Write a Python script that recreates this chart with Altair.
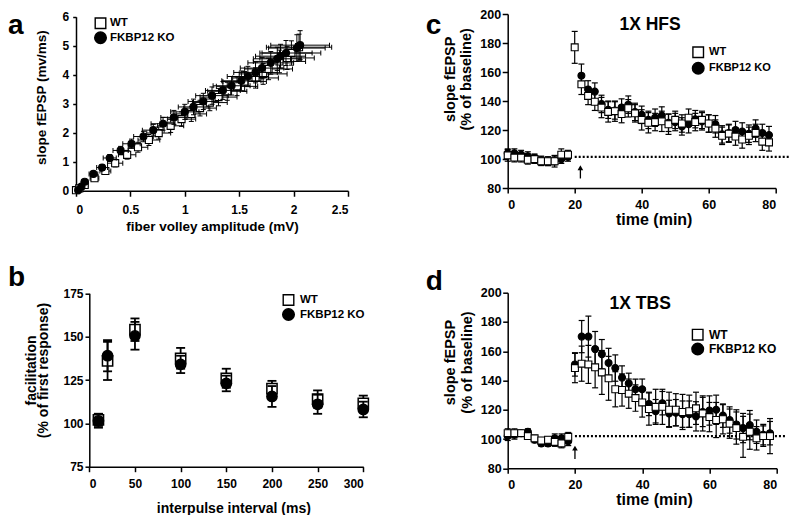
import altair as alt
import pandas as pd

FONT = "Liberation Sans"
GROUPS = ["WT", "FKBP12 KO"]

# ---------------- panel a : input/output ----------------
a_wt_x = [0.00, 0.03, 0.08, 0.17, 0.27, 0.36, 0.47, 0.57, 0.67, 0.76, 0.87, 0.97, 1.06,
          1.14, 1.23, 1.31, 1.39, 1.48, 1.55, 1.65, 1.72, 1.77, 1.87, 1.94, 1.98, 2.05]
a_wt_y = [0.02, 0.08, 0.20, 0.43, 0.68, 0.95, 1.24, 1.50, 1.75, 1.99, 2.24, 2.47, 2.65,
          2.85, 3.04, 3.23, 3.43, 3.60, 3.77, 3.89, 4.03, 4.20, 4.46, 4.58, 4.75, 4.95]
a_wt_xerr = [0.01, 0.02, 0.03, 0.04, 0.05, 0.07, 0.08, 0.09, 0.10, 0.11, 0.12, 0.13, 0.14,
             0.15, 0.16, 0.17, 0.18, 0.19, 0.20, 0.21, 0.22, 0.22, 0.24, 0.25, 0.27, 0.30]
a_wt_yerr = [0.02, 0.04, 0.06, 0.09, 0.11, 0.13, 0.15, 0.17, 0.19, 0.21, 0.23, 0.25, 0.26,
             0.27, 0.28, 0.30, 0.31, 0.32, 0.34, 0.35, 0.36, 0.37, 0.39, 0.40, 0.42, 0.45]
a_ko_x = [0.02, 0.05, 0.08, 0.16, 0.24, 0.31, 0.41, 0.51, 0.62, 0.71, 0.80, 0.90, 1.00, 1.08,
          1.17, 1.25, 1.35, 1.43, 1.52, 1.58, 1.65, 1.71, 1.79, 1.85, 1.88, 1.93, 2.03, 2.06]
a_ko_y = [0.02, 0.14, 0.31, 0.58, 0.80, 1.13, 1.39, 1.62, 1.87, 2.09, 2.31, 2.53, 2.72, 2.89,
          3.08, 3.28, 3.46, 3.62, 3.79, 3.94, 4.08, 4.23, 4.41, 4.55, 4.64, 4.75, 4.92, 5.02]
a_ko_xerr = [0.01, 0.02, 0.03, 0.04, 0.05, 0.06, 0.07, 0.08, 0.09, 0.10, 0.11, 0.12, 0.13, 0.14,
             0.14, 0.15, 0.16, 0.17, 0.18, 0.19, 0.20, 0.20, 0.21, 0.22, 0.23, 0.24, 0.26, 0.27]
a_ko_yerr = [0.02, 0.04, 0.06, 0.08, 0.10, 0.12, 0.14, 0.16, 0.18, 0.20, 0.22, 0.24, 0.26, 0.27,
             0.28, 0.30, 0.31, 0.32, 0.34, 0.35, 0.36, 0.37, 0.39, 0.40, 0.41, 0.43, 0.46, 0.50]

# ---------------- panel b : paired-pulse facilitation ----------------
b_x = [10, 20, 50, 100, 150, 200, 250, 300]
b_wt = [102, 136, 154, 137.5, 126, 120, 114, 111.5]
b_wt_err = [3.5, 11, 6.5, 6, 5.5, 4.5, 5, 4.5]
b_ko = [101.5, 139, 150.5, 134, 123, 115.5, 111, 108]
b_ko_err = [4, 9, 8, 5, 4.5, 6, 5.5, 4.5]

# ---------------- panel c : 1X HFS ----------------
c_wt_t = [0, 2, 4, 6, 8, 10, 12, 14, 16, 18, 20, 22, 24, 26, 28, 30, 32, 34, 36, 38,
          40, 42, 44, 46, 48, 50, 52, 54, 56, 58, 60, 62, 64, 66, 68, 70, 72, 74, 76, 78]
c_wt = [102.5, 101, 101, 99.5, 100, 98.5, 98.5, 98.5, 103, 103,
        177, 151.5, 143.5, 139.5, 135.5, 132.5, 133, 131, 135, 131.5,
        127, 125, 125.5, 126, 124, 127, 124.5, 128.5, 125.5, 127,
        124.5, 121, 116, 117.5, 115.5, 113.5, 116, 118, 112, 111.5]
c_wt_err = [4, 3, 3, 3, 3, 3, 3, 4, 4, 3,
            11, 7, 6, 6, 7, 7, 7, 6, 6, 6,
            7, 7, 6, 7, 7, 6, 6, 6, 6, 6,
            6, 6, 6, 6, 6, 6, 6, 6, 6, 6]
c_ko_t = [0, 2, 4, 6, 8, 10, 12, 14, 16, 18, 22, 24, 26, 28, 30, 32, 34, 36, 38,
          40, 42, 44, 46, 48, 50, 52, 54, 56, 58, 60, 62, 64, 66, 68, 70, 72, 74, 76, 78]
c_ko = [104, 104, 103, 102, 100.5, 99, 98.5, 99, 100, 101.5,
        157.5, 148, 146.5, 138, 134, 133.5, 135.5, 137.5, 132.5,
        130.5, 127, 128.5, 130, 125, 125.5, 122.5, 124, 127.5, 126,
        124.5, 124, 117, 118, 120, 119, 117.5, 121, 118, 116.5]
c_ko_err = [3, 3, 3, 3, 3, 3, 3, 3, 3, 3,
            8, 6, 6, 6, 6, 6, 6, 6, 6,
            6, 6, 6, 6, 6, 6, 6, 6, 6, 6,
            6, 6, 6, 6, 6, 6, 6, 6, 6, 6]
c_dotted = [20, 84, 101.5]          # from t, to t, level
c_arrow = [21.7, 86.6, 94]          # t, tail, head
c_label = [42.5, 192.4, "1X HFS"]

# ---------------- panel d : 1X TBS ----------------
d_t = [0, 2, 4, 6, 8, 10, 12, 14, 16, 18, 20, 22, 24, 26, 28, 30, 32, 34, 36, 38,
       40, 42, 44, 46, 48, 50, 52, 54, 56, 58, 60, 62, 64, 66, 68, 70, 72, 74, 76, 78]
d_wt = [104, 104, 104, 102, 100.5, 99, 99.5, 98, 97, 101.5,
        148.5, 151.5, 151, 149, 145.5, 141.5, 134, 133.5, 131, 128,
        125, 120.5, 122, 122, 120, 120, 118.5, 119, 121, 117.5,
        115, 113, 113.5, 110.5, 107.5, 101.5, 105, 100.5, 102, 102]
d_wt_err = [3, 3, 2, 2, 2, 2, 2, 3, 3, 3,
            10, 12, 13, 14, 15, 15, 12, 11, 10, 9,
            10, 11, 12, 12, 12, 11, 12, 11, 11, 12,
            10, 12, 10, 10, 11, 14, 12, 8, 7, 12]
d_ko = [102, 103, 104, 105, 99.5, 97, 97, 100.5, 100.5, 98.5,
        151, 170, 170, 161.5, 158, 152, 148.5, 142, 138, 134,
        134, 124, 119, 124.5, 117.5, 118, 117, 117, 115.5, 118.5,
        119.5, 120, 116, 113, 110, 107.5, 109.5, 105, 103, 104]
d_ko_err = [3, 3, 2, 2, 2, 2, 2, 3, 3, 3,
            8, 11, 14, 12, 10, 10, 9, 8, 7, 7,
            7, 8, 8, 8, 9, 9, 9, 9, 10, 10,
            10, 10, 8, 9, 10, 10, 10, 8, 7, 8]
d_dotted = [20, 83, 102]
d_arrow = [20.0, 86.3, 93.8]
d_label = [39.4, 192.1, "1X TBS"]

STYLE = {"WT": {"shape": "square", "fill": "white", "lsize": 112},
         "FKBP12 KO": {"shape": "circle", "fill": "black", "lsize": 135}}


def frame(xs, ys, errs, xerrs=None):
    d = pd.DataFrame({"x": xs, "y": ys, "e": errs})
    d["lo"] = d["y"] - d["e"]
    d["hi"] = d["y"] + d["e"]
    if xerrs is not None:
        d["ex"] = xerrs
        d["xlo"] = d["x"] - d["ex"]
        d["xhi"] = d["x"] + d["ex"]
    return d


def panel(series, order, w, h, xsc, ysc, xaxis, yaxis, size, sw, barw, cap,
          leg, letter, lxy, xerr=False, dotted=None, arrow=None, label=None):
    xs = alt.Scale(nice=False, zero=False, **xsc)
    ys = alt.Scale(nice=False, zero=False, **ysc)

    def X(f):
        return alt.X(f"{f}:Q", scale=xs, axis=xaxis)

    def Y(f):
        return alt.Y(f"{f}:Q", scale=ys, axis=yaxis)

    layers = []
    if dotted is not None:
        dd = pd.DataFrame({"x0": [dotted[0]], "x1": [dotted[1]], "yy": [dotted[2]]})
        layers.append(alt.Chart(dd).mark_rule(color="black", strokeWidth=2.2, strokeDash=[2, 2])
                      .encode(x=X("x0"), x2="x1", y=Y("yy")))
    if arrow is not None:
        ad = pd.DataFrame({"ax": [arrow[0]], "a0": [arrow[1]], "a1": [arrow[2]]})
        layers.append(alt.Chart(ad).mark_rule(color="black", strokeWidth=1.3)
                      .encode(x=X("ax"), y=Y("a0"), y2="a1"))
        layers.append(alt.Chart(ad).mark_point(shape="triangle-up", filled=True, color="black",
                                               opacity=1, size=32)
                      .encode(x=X("ax"), y=Y("a1")))
    for g in order:
        df = series[g]
        st = STYLE[g]
        base = alt.Chart(df)
        layers.append(base.mark_rule(color="black", strokeWidth=barw)
                      .encode(x=X("x"), y=Y("lo"), y2="hi"))
        caps = df.melt(id_vars=["x"], value_vars=["lo", "hi"], value_name="cy")
        layers.append(alt.Chart(caps).mark_tick(color="black", orient="horizontal", size=cap,
                                                thickness=barw, opacity=1)
                      .encode(x=X("x"), y=Y("cy")))
        if xerr:
            layers.append(base.mark_rule(color="black", strokeWidth=barw)
                          .encode(x=X("xlo"), x2="xhi", y=Y("y")))
            xcaps = df.melt(id_vars=["y"], value_vars=["xlo", "xhi"], value_name="cx")
            layers.append(alt.Chart(xcaps).mark_tick(color="black", orient="vertical", size=cap,
                                                     thickness=barw, opacity=1)
                          .encode(x=X("cx"), y=Y("y")))
        layers.append(base.mark_point(shape=st["shape"], filled=True, fill=st["fill"], stroke="black",
                                      strokeWidth=sw, opacity=1, size=size)
                      .encode(x=X("x"), y=Y("y")))
    # legend (symbol + label for each group)
    sx, rows, tx, fs = leg
    for g, ry in zip(GROUPS, rows):
        st = STYLE[g]
        ld = pd.DataFrame({"lab": [g]})
        layers.append(alt.Chart(ld).mark_point(shape=st["shape"], filled=True, fill=st["fill"],
                                               stroke="black", strokeWidth=1.4, opacity=1,
                                               size=st["lsize"])
                      .encode(x=alt.value(sx), y=alt.value(ry)))
        layers.append(alt.Chart(ld).mark_text(font=FONT, fontSize=fs, fontWeight="bold", color="black",
                                              align="left", baseline="middle")
                      .encode(text="lab:N", x=alt.value(tx), y=alt.value(ry)))
    if label is not None:
        td = pd.DataFrame({"lx": [label[0]], "ly": [label[1]], "txt": [label[2]]})
        layers.append(alt.Chart(td).mark_text(font=FONT, fontSize=17.5, fontWeight="bold",
                                              color="black", align="center", baseline="middle")
                      .encode(x=X("lx"), y=Y("ly"), text="txt:N"))
    layers.append(alt.Chart(pd.DataFrame({"t": [letter]}))
                  .mark_text(font=FONT, fontSize=28, fontWeight="bold", align="left",
                             baseline="alphabetic", color="black")
                  .encode(text="t:N", x=alt.value(lxy[0]), y=alt.value(lxy[1])))
    return alt.layer(*layers).properties(width=w, height=h)


# ---------- axes (title positions relative to each view) ----------
a_xaxis = alt.Axis(values=[0, 0.5, 1, 1.5, 2, 2.5], format="~g", title="fiber volley amplitude (mV)",
                   tickSize=5.5, labelPadding=8.5, labelFontSize=12, titleFontSize=13.5, titleY=29)
a_yaxis = alt.Axis(values=[0, 1, 2, 3, 4, 5, 6], title="slope fEPSP (mv/ms)", tickSize=3.3,
                   labelPadding=4, labelFontSize=12, titleFontSize=13.5, titleX=-28, titleY=83.2)
b_xaxis = alt.Axis(values=[0, 50, 100, 150, 200, 250, 300], title="interpulse interval (ms)",
                   tickSize=5, labelPadding=7, labelFontSize=12, titleFontSize=14, titleX=157.3, titleY=34.3)
b_yaxis = alt.Axis(values=[75, 100, 125, 150, 175], title=["facilitation", "(% of first response)"],
                   tickSize=4.3, labelPadding=2, labelFontSize=12, titleFontSize=14, titleLineHeight=12,
                   titleX=-50.7, titleY=77.3, offset=-13.3)
c_xaxis = alt.Axis(values=[0, 20, 40, 60, 80], title="time (min)", tickSize=5, labelPadding=5.5,
                   labelFontSize=12.5, titleFontSize=16, titleX=146, titleY=23.2)
c_yaxis = alt.Axis(values=[80, 100, 120, 140, 160, 180, 200], title=["slope fEPSP", "(% of baseline)"],
                   tickSize=5.5, labelPadding=1.5, labelFontSize=12.5, titleFontSize=14.5,
                   titleLineHeight=16.7, titleX=-50.6, titleY=64.8)
d_xaxis = alt.Axis(values=[0, 20, 40, 60, 80], title="time (min)", tickSize=5, labelPadding=5.5,
                   labelFontSize=12.5, titleFontSize=16, titleX=146.3, titleY=23.5)
d_yaxis = alt.Axis(values=[80, 100, 120, 140, 160, 180, 200], title=["slope fEPSP", "(% of baseline)"],
                   tickSize=5, labelPadding=1.5, labelFontSize=12.5, titleFontSize=14.5,
                   titleLineHeight=16.7, titleX=-50, titleY=69.3)

pa = panel({"WT": frame(a_wt_x, a_wt_y, a_wt_yerr, a_wt_xerr),
            "FKBP12 KO": frame(a_ko_x, a_ko_y, a_ko_yerr, a_ko_xerr)},
           ["WT", "FKBP12 KO"], 272, 176.75,
           {"domain": [0, 2.5]}, {"domain": [0, 6], "range": [176.75, 2.75]},
           a_xaxis, a_yaxis, 50, 1.1, 1, 5,
           (24.5, (9.25, 23.75), 34, 11.5), "a", (-68, 20), xerr=True)
pc = panel({"WT": frame(c_wt_t, c_wt, c_wt_err), "FKBP12 KO": frame(c_ko_t, c_ko, c_ko_err)},
           ["FKBP12 KO", "WT"], 268, 174.05,
           {"domain": [0, 80]}, {"domain": [80, 200]},
           c_xaxis, c_yaxis, 48, 1.1, 1.2, 6,
           (190.5, (38.25, 54.25), 201.3, 11), "c", (-82, 20),
           dotted=c_dotted, arrow=c_arrow, label=c_label)
pb = panel({"WT": frame(b_x, b_wt, b_wt_err), "FKBP12 KO": frame(b_x, b_ko, b_ko_err)},
           ["WT", "FKBP12 KO"], 287.3, 174,
           {"domain": [0, 300], "range": [13.3, 287.3]}, {"domain": [75, 175], "range": [174, 0.6]},
           b_xaxis, b_yaxis, 105, 1.5, 1.8, 9,
           (212.5, (7.3, 21.8), 224, 11.5), "b", (-68, -6.7))
pdd = panel({"WT": frame(d_t, d_wt, d_wt_err), "FKBP12 KO": frame(d_t, d_ko, d_ko_err)},
            ["FKBP12 KO", "WT"], 269, 175.6,
            {"domain": [0, 80]}, {"domain": [80, 200]},
            d_xaxis, d_yaxis, 48, 1.1, 1.2, 6,
            (190, (42, 56.3), 201.3, 12), "d", (-82, -2.7),
            dotted=d_dotted, arrow=d_arrow, label=d_label)

chart = (alt.concat(pa, pc, pb, pdd, columns=2, bounds="flush",
                    spacing={"row": 101.7, "column": 143.7})
         .properties(padding=0)
         .configure_view(strokeWidth=0)
         .configure_axis(domainColor="black", domainWidth=1.5, tickColor="black", tickWidth=1.5,
                         labelColor="black", titleColor="black", labelFont=FONT, titleFont=FONT,
                         labelFontWeight="bold", titleFontWeight="bold", grid=False))

chart.save("out.html", embed_options={"renderer": "svg", "actions": False})
